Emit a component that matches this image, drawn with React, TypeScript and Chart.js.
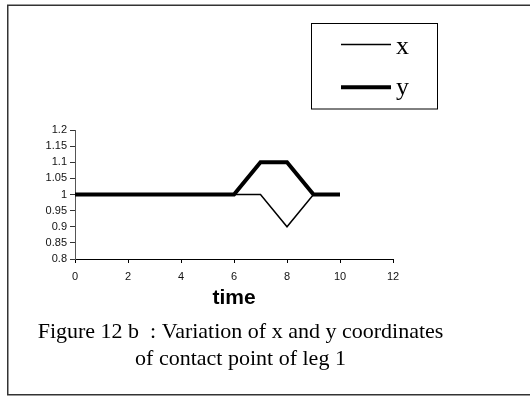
import React, { useEffect, useRef } from "react";
import { Chart, registerables } from "chart.js";

Chart.register(...registerables);

// ---- data ----
const times = [0, 1, 2, 3, 4, 5, 6, 7, 8, 9, 10];
const xSeries = [1, 1, 1, 1, 1, 1, 1, 1, 0.9, 1, 1];
const ySeries = [1, 1, 1, 1, 1, 1, 1, 1.1, 1.1, 1, 1];
const seriesNames = ["x", "y"];
const xTickValues = [0, 2, 4, 6, 8, 10, 12];
const xTickLabels = ["0", "2", "4", "6", "8", "10", "12"];
const yTickValues = [0.8, 0.85, 0.9, 0.95, 1, 1.05, 1.1, 1.15, 1.2];
const yTickLabels = ["0.8", "0.85", "0.9", "0.95", "1", "1.05", "1.1", "1.15", "1.2"];
const axisTitle = "time";
const captionLines = [
  "Figure 12 b  : Variation of x and y coordinates",
  "of contact point of leg 1",
];

const decorPlugin = {
  id: "decor",
  afterDraw(chart: any) {
    const ctx = chart.ctx as CanvasRenderingContext2D;
    ctx.save();
    // outer frame (left, top, bottom; the right edge lies outside the picture)
    ctx.strokeStyle = "#333333";
    ctx.lineWidth = 1.5;
    ctx.beginPath();
    ctx.moveTo(530, 5.25);
    ctx.lineTo(7.75, 5.25);
    ctx.lineTo(7.75, 394.75);
    ctx.lineTo(530, 394.75);
    ctx.stroke();
    // legend box
    ctx.strokeStyle = "#000000";
    ctx.lineWidth = 1;
    ctx.strokeRect(311.5, 23.5, 126, 85.5);
    const lineY = [44.5, 87.3];
    const textY = [54.3, 95];
    chart.data.datasets.forEach((ds: any, i: number) => {
      ctx.beginPath();
      ctx.lineWidth = ds.borderWidth;
      ctx.strokeStyle = ds.borderColor;
      ctx.moveTo(341, lineY[i]);
      ctx.lineTo(391, lineY[i]);
      ctx.stroke();
      ctx.font = '26px "Liberation Serif"';
      ctx.fillStyle = "#000000";
      ctx.textAlign = "left";
      ctx.textBaseline = "alphabetic";
      ctx.fillText(ds.label, 396, textY[i]);
    });
    // caption
    ctx.font = '22px "Liberation Serif"';
    ctx.fillStyle = "#000000";
    ctx.textAlign = "center";
    ctx.textBaseline = "alphabetic";
    ctx.fillText(captionLines[0], 240.5, 337.5);
    ctx.fillText(captionLines[1], 240.5, 364.5);
    ctx.restore();
  },
};

export default function App() {
  const ref = useRef<HTMLCanvasElement | null>(null);

  useEffect(() => {
    if (!ref.current) return;
    const chart = new Chart(ref.current, {
      type: "line",
      data: {
        datasets: [
          {
            label: seriesNames[0],
            data: times.map((t, i) => ({ x: t, y: xSeries[i] })),
            borderColor: "#000000",
            borderWidth: 1.5,
            pointRadius: 0,
            tension: 0,
            fill: false,
          },
          {
            label: seriesNames[1],
            data: times.map((t, i) => ({ x: t, y: ySeries[i] })),
            borderColor: "#000000",
            borderWidth: 4,
            pointRadius: 0,
            tension: 0,
            fill: false,
          },
        ],
      },
      options: {
        responsive: false,
        animation: false,
        devicePixelRatio: 1,
        layout: { padding: { left: 30, right: 139, top: 130, bottom: 87 } },
        plugins: {
          legend: { display: false },
          tooltip: { enabled: false },
          title: { display: false },
        },
        scales: {
          x: {
            type: "linear",
            min: 0,
            max: 12,
            afterBuildTicks: (s: any) => {
              s.ticks = xTickValues.map((v) => ({ value: v }));
            },
            afterFit: (s: any) => {
              s.height = 50;
            },
            ticks: {
              callback: (_v: any, i: number) => xTickLabels[i],
              color: "#111111",
              font: { family: "Liberation Sans", size: 11 },
              padding: 7,
              maxRotation: 0,
              autoSkip: false,
            },
            grid: {
              drawOnChartArea: false,
              drawTicks: true,
              tickLength: 4,
              color: "#000000",
            },
            border: { color: "#000000", width: 1 },
            title: {
              display: true,
              text: axisTitle,
              color: "#000000",
              font: { family: "Liberation Sans", size: 21, weight: "bold", lineHeight: 1 },
              padding: { top: 0, bottom: 0 },
            },
          },
          y: {
            type: "linear",
            min: 0.8,
            max: 1.2,
            afterBuildTicks: (s: any) => {
              s.ticks = yTickValues.map((v) => ({ value: v }));
            },
            afterFit: (s: any) => {
              s.width = 45;
            },
            ticks: {
              callback: (_v: any, i: number) => yTickLabels[i],
              color: "#111111",
              font: { family: "Liberation Sans", size: 11 },
              padding: 3,
              autoSkip: false,
            },
            grid: {
              drawOnChartArea: false,
              drawTicks: true,
              tickLength: 5,
              color: "#333333",
            },
            border: { color: "#555555", width: 1 },
          },
        },
      },
      plugins: [decorPlugin],
    } as any);
    return () => chart.destroy();
  }, []);

  return (
    <div style={{ position: "fixed", left: 0, top: 0, width: 532, height: 396, background: "#ffffff" }}>
      <canvas ref={ref} width={532} height={396} style={{ width: 532, height: 396, display: "block" }} />
    </div>
  );
}
